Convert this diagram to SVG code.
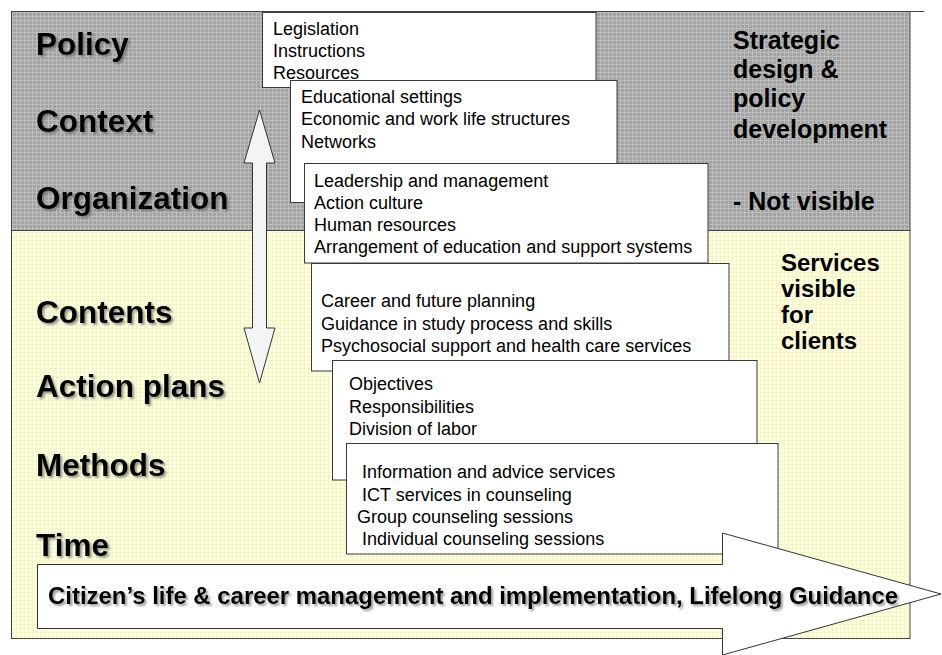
<svg xmlns="http://www.w3.org/2000/svg" width="942" height="655" viewBox="0 0 942 655">
  <defs>
    <pattern id="grayGrid" width="4" height="4" patternUnits="userSpaceOnUse">
      <rect width="4" height="4" fill="#a3a3a3"/>
      <path d="M0 0.5H4M0.5 0V4" stroke="#bdbdbd" stroke-width="1"/>
    </pattern>
    <pattern id="yellowGrid" width="4" height="4" patternUnits="userSpaceOnUse">
      <rect width="4" height="4" fill="#ffffdc"/>
      <path d="M0 0.5H4M0.5 0V4" stroke="#f4f4cc" stroke-width="1"/>
    </pattern>
    <filter id="textShadow" x="-5%" y="-20%" width="115%" height="150%">
      <feDropShadow dx="2" dy="2" stdDeviation="0.8" flood-color="#555" flood-opacity="0.6"/>
    </filter>
  </defs>
  <style>
    .frame { stroke: #444; stroke-width: 1; }
    .box { fill: #ffffff; stroke: #3a3a3a; stroke-width: 1; }
    .item { font-family: "Liberation Sans", Arial, sans-serif; font-size: 18px; fill: #000; }
    .level { font-family: "Liberation Sans", Arial, sans-serif; font-size: 31.5px; font-weight: bold; fill: #000; filter: url(#textShadow); }
    .side { font-family: "Liberation Sans", Arial, sans-serif; font-size: 25px; font-weight: bold; fill: #000; }
    .side-sm { font-family: "Liberation Sans", Arial, sans-serif; font-size: 24px; font-weight: bold; fill: #000; }
    .arrowTxt { font-family: "Liberation Sans", Arial, sans-serif; font-size: 24px; font-weight: bold; fill: #000; filter: url(#textShadow); }
    .bigArrow { fill: #ffffff; stroke: #333; stroke-width: 1; }
    .vArrow { fill: #f4f4f4; stroke: #333; stroke-width: 1; }
  </style>

  <!-- background bands -->
  <rect x="0" y="0" width="942" height="655" fill="#ffffff"/>
  <g id="band-strategic">
    <rect class="frame" x="11.5" y="11.5" width="898.5" height="219" fill="url(#grayGrid)"/>
    <line class="frame" x1="11" y1="11.5" x2="924" y2="11.5"/>
  </g>
  <g id="band-services">
    <rect class="frame" x="11.5" y="230.5" width="898.5" height="408" fill="url(#yellowGrid)"/>
  </g>

  <!-- level labels -->
  <g id="labels-left">
    <text class="level" x="36" y="55">Policy</text>
    <text class="level" x="36" y="132">Context</text>
    <text class="level" x="36" y="209">Organization</text>
    <text class="level" x="36" y="323">Contents</text>
    <text class="level" x="36" y="397">Action plans</text>
    <text class="level" x="36" y="476">Methods</text>
    <text class="level" x="36" y="556">Time</text>
  </g>

  <g id="labels-right">
    <text class="side" x="733" y="49">Strategic</text>
    <text class="side" x="733" y="78">design &amp;</text>
    <text class="side" x="733" y="107">policy</text>
    <text class="side" x="733" y="138">development</text>
    <text class="side" x="733" y="210">- Not visible</text>
    <text class="side-sm" x="781" y="271">Services</text>
    <text class="side-sm" x="781" y="297">visible</text>
    <text class="side-sm" x="781" y="323">for</text>
    <text class="side-sm" x="781" y="349">clients</text>
  </g>

  <!-- connectors -->
  <g id="connectors">
    <polygon id="updown-arrow" class="vArrow" points="259.5,110 275,163 266.5,163 266.5,328 275,328 259.5,383 244,328 252.5,328 252.5,163 244,163"/>
  </g>

  <!-- stacked content boxes -->
  <g id="box-policy">
    <rect class="box" x="262.5" y="12.5" width="333.5" height="75"/>
    <text class="item" x="273" y="35">Legislation</text>
    <text class="item" x="273" y="57">Instructions</text>
    <text class="item" x="273" y="79">Resources</text>
  </g>
  <g id="box-context">
    <rect class="box" x="290.5" y="80.5" width="326.5" height="122"/>
    <text class="item" x="301" y="103">Educational settings</text>
    <text class="item" x="301" y="125">Economic and work life structures</text>
    <text class="item" x="301" y="147.5">Networks</text>
  </g>
  <g id="box-organization">
    <rect class="box" x="304.5" y="163.5" width="403.5" height="99.5"/>
    <text class="item" x="314" y="187">Leadership and management</text>
    <text class="item" x="314" y="209">Action culture</text>
    <text class="item" x="314" y="231">Human resources</text>
    <text class="item" x="314" y="253">Arrangement of education and support systems</text>
  </g>
  <g id="box-contents">
    <rect class="box" x="311.5" y="263.5" width="417.5" height="107.5"/>
    <text class="item" x="321" y="307">Career and future planning</text>
    <text class="item" x="321" y="330">Guidance in study process and skills</text>
    <text class="item" x="321" y="352">Psychosocial support and health care services</text>
  </g>
  <g id="box-action-plans">
    <rect class="box" x="332.5" y="360.5" width="424.5" height="119.5"/>
    <text class="item" x="349" y="390">Objectives</text>
    <text class="item" x="349" y="413">Responsibilities</text>
    <text class="item" x="349" y="435">Division of labor</text>
  </g>
  <g id="box-methods">
    <rect class="box" x="346.5" y="443.5" width="431.5" height="110.5"/>
    <text class="item" x="362" y="478">Information and advice services</text>
    <text class="item" x="362" y="501">ICT services in counseling</text>
    <text class="item" x="357" y="523">Group counseling sessions</text>
    <text class="item" x="362" y="545">Individual counseling sessions</text>
  </g>

  <!-- lifelong time arrow -->
  <g id="time-arrow">
    <polygon class="bigArrow" points="37.5,564.5 722.5,564.5 722.5,533 941,594 722.5,655 722.5,628.5 37.5,628.5"/>
    <text class="arrowTxt" x="48" y="604" textLength="850" lengthAdjust="spacingAndGlyphs">Citizen’s life &amp; career management and implementation, Lifelong Guidance</text>
  </g>
</svg>
